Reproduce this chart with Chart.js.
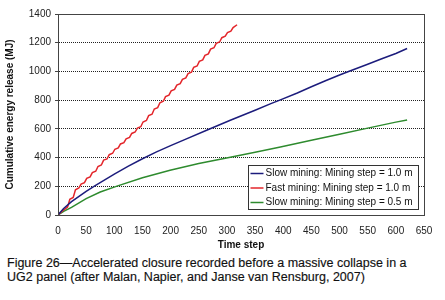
<!DOCTYPE html>
<html>
<head>
<meta charset="utf-8">
<script src="https://cdn.jsdelivr.net/npm/chart.js@4.4.1/dist/chart.umd.min.js"></script>
<style>
    html, body { margin: 0; padding: 0; background: #fff; }
    #wrap { position: relative; width: 445px; height: 300px; }
    #plot { position: absolute; left: 0; top: 0; width: 445px; height: 255px; }
    #caption {
        position: absolute; left: 7px; top: 257px; width: 438px;
        font: 12.5px "Liberation Sans", Arial, sans-serif; line-height: 13.5px; color: #111;
        -webkit-text-stroke: 0.15px #111;
    }
</style>
</head>
<body>
<div id="wrap">
    <div id="plot"><canvas id="closureChart"></canvas></div>
    <div id="caption">Figure 26—Accelerated closure recorded before a massive collapse in a<br>UG2 panel (after Malan, Napier, and Janse van Rensburg, 2007)</div>
</div>
<script>
// values (time step, cumulative energy in MJ)
const slowStep = [0, 10, 24, 50, 66, 100, 125, 150, 175, 200, 225, 265, 306, 350, 378, 395, 425, 450, 475, 500, 516, 550, 575, 600, 620];
const slowEnergy = [0, 45, 93, 165, 205, 285, 340, 392, 440, 483, 525, 592, 660, 730, 776, 802, 850, 893, 935, 975, 1000, 1050, 1088, 1125, 1160];

const fastStep = [0, 7, 11, 17, 21, 27, 31, 37, 41, 47, 51, 57, 61, 67, 71, 77, 81, 87, 91, 97, 101, 107, 111, 117, 121, 127, 131, 137, 141, 147, 151, 157,
    161, 167, 171, 177, 181, 187, 191, 197, 201, 207, 211, 217, 221, 227, 231, 237, 241, 247, 251, 257, 261, 267, 271, 277, 281, 287, 291, 297, 301, 307, 311, 318];
const fastEnergy = [0, 25, 38, 55, 110, 122, 175, 188, 215, 225, 255, 265, 295, 305, 338, 348, 382, 390, 420, 430, 458, 467, 495, 504, 530, 540, 568, 578, 605, 615, 648, 658,
    692, 702, 738, 748, 782, 792, 825, 835, 865, 875, 905, 915, 945, 955, 985, 995, 1028, 1038, 1070, 1080, 1112, 1122, 1155, 1165, 1195, 1205, 1235, 1245, 1270, 1280, 1305, 1325];

const halfStep = [0, 10, 24, 50, 75, 106, 150, 199, 250, 306, 350, 395, 450, 500, 550, 600, 620];
const halfEnergy = [0, 25, 53, 114, 160, 203, 260, 312, 358, 403, 437, 474, 520, 563, 605, 647, 662];

const seriesLabels = [
    'Slow mining: Mining step = 1.0 m',
    'Fast mining: Mining step = 1.0 m',
    'Slow mining: Mining step = 0.5 m'
];
const seriesColors = ['#1c1c7c', '#e3262b', '#2e8b2e'];

const toPoints = (xs, ys) => xs.map((x, i) => ({ x, y: ys[i] }));
const FONT = '"Liberation Sans", Arial, sans-serif';

// frame around the plot plus the boxed legend inside it
const framePlugin = {
    id: 'frame',
    afterDatasetsDraw(chart) {
        const { ctx, chartArea: a } = chart;
        ctx.save();
        ctx.strokeStyle = '#444';
        ctx.lineWidth = 1;
        ctx.strokeRect(a.left + 0.5, a.top + 0.5, a.right - a.left, a.bottom - a.top);

        const bx = 248.5, by = 165.5, bw = 170, bh = 44;
        ctx.fillStyle = '#fff';
        ctx.fillRect(bx, by, bw, bh);
        ctx.strokeStyle = '#333';
        ctx.strokeRect(bx, by, bw, bh);
        ctx.font = '10px ' + FONT;
        ctx.textBaseline = 'middle';
        seriesLabels.forEach((lab, i) => {
            const y = by + 8 + i * 14.5;
            ctx.strokeStyle = seriesColors[i];
            ctx.lineWidth = 1.5;
            ctx.beginPath();
            ctx.moveTo(bx + 2, y);
            ctx.lineTo(bx + 15, y);
            ctx.stroke();
            ctx.fillStyle = '#111';
            ctx.fillText(lab, bx + 17, y);
        });
        ctx.restore();
    }
};

new Chart(document.getElementById('closureChart'), {
    type: 'line',
    data: {
        datasets: [
            { label: seriesLabels[0], data: toPoints(slowStep, slowEnergy), borderColor: seriesColors[0], borderWidth: 1.5, pointRadius: 0, tension: 0 },
            { label: seriesLabels[1], data: toPoints(fastStep, fastEnergy), borderColor: seriesColors[1], borderWidth: 1.5, pointRadius: 0, tension: 0 },
            { label: seriesLabels[2], data: toPoints(halfStep, halfEnergy), borderColor: seriesColors[2], borderWidth: 1.5, pointRadius: 0, tension: 0 }
        ]
    },
    options: {
        responsive: true,
        maintainAspectRatio: false,
        animation: false,
        layout: { padding: { left: 0, right: 21, top: 14, bottom: 0 } },
        plugins: { legend: { display: false }, tooltip: { enabled: false } },
        scales: {
            x: {
                type: 'linear', min: 0, max: 650,
                ticks: { stepSize: 50, color: '#222', font: { family: FONT, size: 10 }, padding: 2, maxRotation: 0, callback: v => String(v) },
                grid: { display: false },
                border: { color: '#444' },
                title: { display: true, text: 'Time step', color: '#111', font: { family: FONT, size: 10, weight: 'bold' }, padding: { top: 2 } },
                afterFit: s => { s.height = 40; }
            },
            y: {
                min: 0, max: 1400,
                ticks: { stepSize: 200, color: '#222', font: { family: FONT, size: 10 }, padding: 4, callback: v => String(v) },
                grid: { color: '#222', drawTicks: true, tickLength: 3, tickColor: '#444' },
                border: { color: '#444', dash: [1, 1] },
                title: { display: true, text: 'Cumulative energy release (MJ)', color: '#111', font: { family: FONT, size: 10, weight: 'bold' }, padding: { bottom: 2 } },
                afterFit: s => { s.width = 58; }
            }
        }
    },
    plugins: [framePlugin]
});
</script>
</body>
</html>
